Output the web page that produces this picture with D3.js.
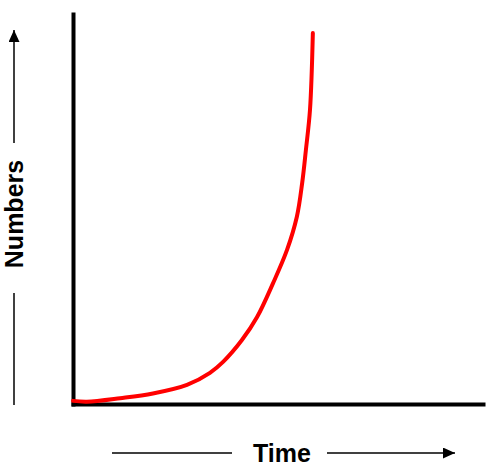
<!DOCTYPE html>
<html>
<head>
<meta charset="utf-8">
<script src="https://cdn.jsdelivr.net/npm/d3@7"></script>
<style>
body { margin: 0; background: #fff; }
svg { display: block; }
.label { font-family: "Liberation Sans", Arial, sans-serif; font-weight: bold; font-size: 25px; fill: #000; }
</style>
</head>
<body>
<svg width="491" height="467"></svg>
<script>
var time = [ 0, 0.34, 1.15, 1.95, 2.78, 3.34, 3.66, 4.12, 4.49, 4.88, 5.22, 5.46, 5.59, 5.68, 5.78, 5.85 ];
var numbers = [ 0.8, 0.6, 1.5, 2.7, 4.9, 8.0, 10.8, 16.4, 22.3, 31.0, 39.5, 48.0, 56.7, 65.1, 75.4, 95.1 ];
var xLabel = "Time";
var yLabel = "Numbers";

var data = time.map(function(t, i) {
	return { x : t, y : numbers[i] };
});

var margin = { left : 73, top : 14, right : 8, bottom : 63 };
var svg = d3.select("svg");
var width = 491 - margin.left - margin.right;
var height = 467 - margin.top - margin.bottom;
var svgG = svg.append("g").attr("transform",
		"translate(" + margin.left + "," + margin.top + ")");

var xScale = d3.scaleLinear().domain([ 0, 10 ]).range([ 0, width ]);
var yScale = d3.scaleLinear().domain([ 0, 100 ]).range([ height, 0 ]);

// axes: just the thick black domain lines, no ticks
svgG.append("g").attr("transform", "translate(0," + height + ")")
		.call(d3.axisBottom(xScale).ticks(0).tickSizeOuter(0));
svgG.append("g")
		.call(d3.axisLeft(yScale).ticks(0).tickSizeOuter(0));
svgG.selectAll(".domain").attr("stroke", "#000").attr("stroke-width", 4)
		.attr("stroke-linecap", "square");

var line = d3.line().curve(d3.curveCatmullRom.alpha(0.5)).x(function(d) {
	return xScale(d.x);
}).y(function(d) {
	return yScale(d.y);
});
svgG.append("path").datum(data).attr("fill", "none").attr("stroke", "#ff0000")
		.attr("stroke-width", 4).attr("stroke-linecap", "round").attr("d", line);

// arrow marker
svg.append("defs").append("marker").attr("id", "arrow")
		.attr("viewBox", "0 0 12 11").attr("refX", 12).attr("refY", 5.5)
		.attr("markerWidth", 12).attr("markerHeight", 11)
		.attr("markerUnits", "userSpaceOnUse").attr("orient", "auto")
		.append("path").attr("d", "M0,0L12,5.5L0,11Z").attr("fill", "#000");

// x label with arrow lines
var xl = svg.append("g");
xl.append("line").attr("x1", 112).attr("x2", 232).attr("y1", 453).attr("y2", 453)
		.attr("stroke", "#000").attr("stroke-width", 1.5);
xl.append("line").attr("x1", 327).attr("x2", 455).attr("y1", 453).attr("y2", 453)
		.attr("stroke", "#000").attr("stroke-width", 1.5).attr("marker-end", "url(#arrow)");
xl.append("text").attr("class", "label").attr("x", 282).attr("y", 462)
		.attr("text-anchor", "middle").text(xLabel);

// y label with arrow lines
var yl = svg.append("g");
yl.append("line").attr("x1", 14).attr("x2", 14).attr("y1", 405).attr("y2", 293)
		.attr("stroke", "#000").attr("stroke-width", 1.5);
yl.append("line").attr("x1", 14).attr("x2", 14).attr("y1", 143).attr("y2", 30)
		.attr("stroke", "#000").attr("stroke-width", 1.5).attr("marker-end", "url(#arrow)");
yl.append("text").attr("class", "label").attr("transform", "translate(23,214) rotate(-90)")
		.attr("text-anchor", "middle").text(yLabel);
</script>
</body>
</html>
